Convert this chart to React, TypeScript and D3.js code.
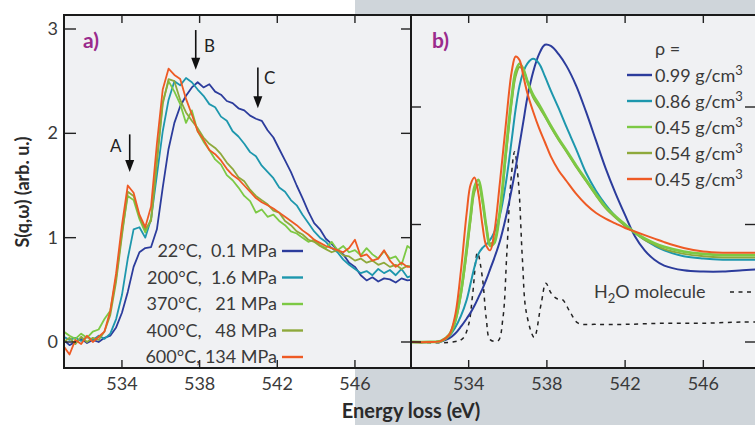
import React from "react";
import * as d3 from "d3";

// ---------- DATA ----------
const leftEnergy: number[] = [
  531.0, 531.3, 531.6, 531.9, 532.2, 532.5, 532.8, 533.1, 533.4, 533.7,
  534.0, 534.3, 534.6, 534.9, 535.2, 535.5, 535.8, 536.1, 536.4, 536.7,
  537.0, 537.3, 537.6, 537.9, 538.2, 538.5, 538.8, 539.1, 539.4, 539.7,
  540.0, 540.3, 540.6, 540.9, 541.2, 541.5, 541.8, 542.1, 542.4, 542.7,
  543.0, 543.3, 543.6, 543.9, 544.2, 544.5, 544.8, 545.1, 545.4, 545.7,
  546.0, 546.3, 546.6, 546.9, 547.2, 547.5, 547.8, 548.1, 548.4, 548.7, 549.0,
];
const exp22C: number[] = [
  0.02, -0.03, 0.0, 0.03, -0.01, 0.02, 0.0, 0.04, 0.06, 0.14,
  0.28, 0.48, 0.72, 0.86, 0.9, 0.91, 1.08, 1.48, 1.85, 2.1,
  2.26, 2.36, 2.44, 2.49, 2.44, 2.47, 2.4, 2.37, 2.31, 2.29,
  2.24, 2.22, 2.17, 2.14, 2.12, 2.03, 1.96, 1.85, 1.74, 1.63,
  1.5, 1.38, 1.25, 1.14, 1.08, 0.99, 0.94, 0.88, 0.84, 0.76,
  0.72, 0.64, 0.59, 0.62, 0.58, 0.61, 0.6, 0.57, 0.61, 0.59, 0.6,
];
const exp200C: number[] = [
  0.05, 0.02, 0.04, 0.01, 0.05, 0.02, 0.06, 0.03, 0.08, 0.22,
  0.45, 0.8, 1.08, 1.1, 1.0, 1.18, 1.6, 2.02, 2.32, 2.5,
  2.46, 2.53, 2.49, 2.42, 2.36, 2.28, 2.25, 2.16, 2.12, 2.02,
  1.97, 1.9, 1.82, 1.78, 1.69, 1.63, 1.57, 1.48, 1.44, 1.36,
  1.31, 1.22, 1.14, 1.06, 1.0, 0.96, 0.9, 0.86, 0.79, 0.74,
  0.7, 0.66, 0.68, 0.64, 0.7, 0.66, 0.69, 0.64, 0.7, 0.62, 0.64,
];
const exp370C: number[] = [
  0.1, 0.06, 0.03, 0.08, 0.04, 0.1, 0.12, 0.22, 0.3, 0.62,
  1.05, 1.4, 1.36, 1.18, 1.05, 1.18, 1.75, 2.3, 2.5, 2.4,
  2.28, 2.1, 2.22, 2.02, 1.92, 1.84, 1.75, 1.7, 1.6, 1.55,
  1.48, 1.4, 1.35, 1.24, 1.27, 1.2, 1.22, 1.16, 1.12, 1.06,
  1.04, 1.0, 0.96, 0.98, 0.93, 0.9, 0.96, 0.88, 0.92, 0.86,
  0.88, 0.83, 0.9, 0.84, 0.8, 0.87, 0.8, 0.82, 0.74, 0.92, 0.88,
];
const exp400C: number[] = [
  0.0, 0.04, -0.02, 0.05, 0.0, 0.04, 0.02, 0.1, 0.26, 0.58,
  1.02, 1.44, 1.4, 1.2, 1.08, 1.16, 1.72, 2.28, 2.52, 2.5,
  2.32, 2.2, 2.12, 2.05, 1.96, 1.9, 1.86, 1.8, 1.72, 1.66,
  1.58, 1.54, 1.46, 1.4, 1.36, 1.32, 1.26, 1.24, 1.16, 1.12,
  1.06, 1.03, 0.98, 0.96, 0.92, 0.89, 0.86, 0.88, 0.83, 0.82,
  0.78, 0.8, 0.76, 0.78, 0.74, 0.76, 0.72, 0.74, 0.7, 0.73, 0.72,
];
const exp600C: number[] = [
  -0.04, -0.12, 0.02, -0.02, 0.06, 0.0, 0.05, 0.1, 0.3, 0.66,
  1.12, 1.5, 1.43, 1.22, 1.1, 1.3, 1.9, 2.42, 2.62, 2.56,
  2.52, 2.33, 2.18, 2.02, 1.94, 1.84, 1.8, 1.74, 1.66, 1.6,
  1.56, 1.5, 1.44, 1.38, 1.34, 1.31, 1.28, 1.24, 1.2, 1.16,
  1.12, 1.07, 1.03, 0.98, 0.95, 0.92, 0.9, 0.88, 0.86, 0.9,
  0.98, 0.82, 0.84, 0.78, 0.8, 0.88, 0.78, 0.72, 0.76, 0.72, 0.72,
];
const leftLabels: string[] = [
  "22°C,  0.1 MPa",
  "200°C,  1.6 MPa",
  "370°C,   21 MPa",
  "400°C,   48 MPa",
  "600°C, 134 MPa",
];

const rightEnergy: number[] = [
  531, 532, 532.6, 533, 533.3, 533.6, 533.9, 534.1, 534.3, 534.5,
  534.7, 534.9, 535.1, 535.3, 535.6, 535.9, 536.2, 536.4, 536.6, 536.8,
  537.0, 537.3, 537.6, 537.9, 538.2, 538.6, 539.0, 539.5, 540.0, 540.5,
  541.0, 541.5, 542.0, 542.5, 543.0, 543.5, 544.0, 545.0, 546.0, 547.0, 548.0, 549.0,
];
const sim099: number[] = [
  0, 0, 0.005, 0.03, 0.07, 0.13, 0.2, 0.25, 0.31, 0.38,
  0.45, 0.53, 0.62, 0.71, 0.86, 1.06, 1.3, 1.48, 1.68, 1.88,
  2.08, 2.3, 2.45, 2.53, 2.52, 2.45, 2.35, 2.18, 1.96, 1.72,
  1.48, 1.27, 1.08, 0.9, 0.78, 0.7, 0.65, 0.61, 0.6, 0.6, 0.61, 0.62,
];
const sim086: number[] = [
  0, 0, 0.01, 0.05, 0.12, 0.22, 0.36, 0.5, 0.64, 0.75,
  0.8, 0.83, 0.87, 0.93, 1.08, 1.35, 1.72, 1.98, 2.18, 2.3,
  2.37, 2.41, 2.37, 2.26, 2.14, 1.99, 1.83, 1.64, 1.44, 1.29,
  1.17, 1.07, 0.99, 0.93, 0.87, 0.82, 0.78, 0.73, 0.71, 0.7, 0.7, 0.7,
];
const sim045a: number[] = [
  0, 0, 0.01, 0.06, 0.18, 0.42, 0.8, 1.08, 1.32, 1.38,
  1.22, 0.98, 0.82, 0.84, 1.12, 1.62, 2.08, 2.3, 2.37, 2.32,
  2.22, 2.1, 2.02, 1.93, 1.84, 1.73, 1.63, 1.5, 1.38, 1.26,
  1.15, 1.07, 1.0, 0.93, 0.88, 0.84, 0.81, 0.77, 0.75, 0.74, 0.74, 0.74,
];
const sim054: number[] = [
  0, 0, 0.01, 0.05, 0.16, 0.4, 0.76, 1.04, 1.28, 1.34,
  1.2, 0.98, 0.84, 0.86, 1.1, 1.58, 2.04, 2.26, 2.34, 2.31,
  2.22, 2.08, 2.0, 1.92, 1.83, 1.72, 1.62, 1.49, 1.37, 1.25,
  1.14, 1.06, 0.99, 0.93, 0.87, 0.83, 0.79, 0.75, 0.73, 0.72, 0.72, 0.72,
];
const sim045b: number[] = [
  0, 0, 0.01, 0.06, 0.22, 0.6, 1.1, 1.34, 1.4, 1.26,
  1.0, 0.82, 0.78, 0.92, 1.36, 1.85, 2.3, 2.43, 2.4, 2.26,
  2.12, 1.96, 1.82, 1.7, 1.58, 1.46, 1.37, 1.26, 1.17, 1.1,
  1.05, 1.01, 0.97, 0.94, 0.91, 0.88, 0.85, 0.8, 0.77, 0.76, 0.76, 0.76,
];
const rightLabels: string[] = ["0.99", "0.86", "0.45", "0.54", "0.45"];

const h2oEnergy: number[] = [
  531, 533.2, 533.7, 534.0, 534.2, 534.45, 534.7, 534.9, 535.1, 535.5,
  535.75, 535.95, 536.15, 536.35, 536.55, 536.75, 536.95, 537.35, 537.7, 537.95,
  538.2, 538.5, 538.8, 539.2, 539.6, 540.5, 542, 544, 546, 548, 549,
];
const h2oValues: number[] = [
  0, 0, 0.03, 0.15, 0.4, 0.76, 0.55, 0.2, 0.02, 0.01,
  0.2, 0.75, 1.35, 1.62, 1.35, 0.7, 0.25, 0.04, 0.32, 0.5,
  0.42, 0.37, 0.36, 0.25, 0.16, 0.15, 0.15, 0.16, 0.16, 0.17, 0.17,
];

const xTicks: number[] = [534, 538, 542, 546];
const leftYTicks: number[] = [0, 1, 2, 3];
const rightYTicks: number[] = [0, 1, 2];

const colors = ["#2c3c9c", "#1d97ad", "#7cc944", "#8ea93b", "#ee5a24"];

// ---------- LAYOUT ----------
const W = 755;
const H = 425;
const top = 15;
const bottom = 368;
const lx0 = 64;
const mid = 411;
const rx1 = 758;

const xL = d3.scaleLinear().domain([531, 549]).range([63.7, 413.2]);
const xR = d3.scaleLinear().domain([531, 549]).range([410, 762]);
const yL = d3.scaleLinear().domain([0, 3]).range([342, 29]);
const yR = d3.scaleLinear().domain([0, 2]).range([342, 107]);

const FONT = "Lato, 'Open Sans', 'DejaVu Sans', sans-serif";
const TXT = "#3a3a3a";

export default function App() {
  const leftSeries = [exp22C, exp200C, exp370C, exp400C, exp600C];
  const rightSeries = [sim099, sim086, sim045a, sim054, sim045b];

  const lineL = d3
    .line<number>()
    .x((_, i) => xL(leftEnergy[i]))
    .y((d) => yL(d));
  const lineR = d3
    .line<number>()
    .x((_, i) => xR(rightEnergy[i]))
    .y((d) => yR(d))
    .curve(d3.curveCatmullRom.alpha(0.5));
  const lineH2O = d3
    .line<number>()
    .x((_, i) => xR(h2oEnergy[i]))
    .y((d) => yR(d))
    .curve(d3.curveCatmullRom.alpha(0.5));

  const tl = 8;
  const leftOrder = [0, 1, 2, 3, 4];
  const rightOrder = [0, 1, 3, 2, 4];

  const arrow = (E: number, v0: number, v1: number, key: string) => {
    const x = xL(E);
    const y0 = yL(v0);
    const y1 = yL(v1);
    return (
      <g key={key}>
        <line x1={x} x2={x} y1={y0} y2={y1 - 10} stroke="#111" strokeWidth={1.6} />
        <path d={`M${x - 4.5},${y1 - 12} L${x + 4.5},${y1 - 12} L${x},${y1} Z`} fill="#111" />
      </g>
    );
  };

  return (
    <svg
      width={W}
      height={H}
      style={{ position: "absolute", left: 0, top: 0, background: "#fff" }}
      fontFamily={FONT}
    >
      <defs>
        <clipPath id="clipL">
          <rect x={lx0} y={top} width={mid - lx0} height={bottom - top} />
        </clipPath>
        <clipPath id="clipR">
          <rect x={mid} y={top} width={rx1 - mid} height={bottom - top} />
        </clipPath>
      </defs>
      {/* backgrounds */}
      <rect x={355} y={0} width={W - 355} height={H} fill="#cfd5da" />
      <rect x={lx0} y={top} width={rx1 - lx0} height={bottom - top} fill="#f0f1f3" />

      {/* left curves */}
      <g clipPath="url(#clipL)">
        {leftOrder.map((k) => (
          <path
            key={"l" + k}
            d={lineL(leftSeries[k]) || ""}
            fill="none"
            stroke={colors[k]}
            strokeWidth={1.8}
            strokeLinejoin="round"
          />
        ))}
      </g>

      {/* right curves */}
      <g clipPath="url(#clipR)">
        <path
          d={lineH2O(h2oValues) || ""}
          fill="none"
          stroke="#222"
          strokeWidth={1.5}
          strokeDasharray="4,4.5"
        />
        {rightOrder.map((k) => (
          <path
            key={"r" + k}
            d={lineR(rightSeries[k]) || ""}
            fill="none"
            stroke={colors[k]}
            strokeWidth={k === 2 ? 2.8 : 2}
          />
        ))}
      </g>

      {/* ticks */}
      <g stroke="#222" strokeWidth={1.4}>
        {xTicks.map((t) => (
          <g key={"xt" + t}>
            <line x1={xL(t)} x2={xL(t)} y1={top} y2={top + tl} />
            <line x1={xL(t)} x2={xL(t)} y1={bottom} y2={bottom - tl} />
            <line x1={xR(t)} x2={xR(t)} y1={top} y2={top + tl} />
            <line x1={xR(t)} x2={xR(t)} y1={bottom} y2={bottom - tl} />
          </g>
        ))}
        {leftYTicks.map((t) => (
          <g key={"ly" + t}>
            <line x1={lx0} x2={lx0 + tl + 4} y1={yL(t)} y2={yL(t)} />
            <line x1={mid} x2={mid - tl - 2} y1={yL(t)} y2={yL(t)} />
          </g>
        ))}
        {rightYTicks.map((t) => (
          <g key={"ry" + t}>
            <line x1={mid} x2={mid + tl + 2} y1={yR(t)} y2={yR(t)} />
            <line x1={W} x2={W - tl - 2} y1={yR(t)} y2={yR(t)} />
          </g>
        ))}
      </g>

      {/* frames */}
      <rect x={lx0} y={top} width={rx1 - lx0} height={bottom - top} fill="none" stroke="#1a1a1a" strokeWidth={2} />
      <line x1={mid} x2={mid} y1={top} y2={bottom} stroke="#1a1a1a" strokeWidth={2} />

      {/* tick labels */}
      <g fontSize={18} fill={TXT} textAnchor="middle">
        {xTicks.map((t) => (
          <g key={"xl" + t}>
            <text x={xL(t)} y={390}>{t}</text>
            <text x={xR(t)} y={390}>{t}</text>
          </g>
        ))}
      </g>
      <g fontSize={18} fill={TXT} textAnchor="end">
        {leftYTicks.map((t) => (
          <text key={"yl" + t} x={58} y={yL(t) + 6}>{t}</text>
        ))}
      </g>

      {/* axis titles */}
      <text x={411} y={418} fontSize={20} fontWeight="bold" fill="#2a2a2a" textAnchor="middle">
        Energy loss (eV)
      </text>
      <text
        transform={`translate(29,192) rotate(-90)`}
        fontSize={18}
        fontWeight="bold"
        fill="#2a2a2a"
        textAnchor="middle"
      >
        S(q,ω) (arb. u.)
      </text>

      {/* panel labels */}
      <text x={83} y={48} fontSize={21} fontWeight="bold" fill="#9a2b8c">a)</text>
      <text x={432} y={48} fontSize={21} fontWeight="bold" fill="#9a2b8c">b)</text>

      {/* arrows */}
      {arrow(534.4, 1.99, 1.63, "A")}
      {arrow(537.8, 2.99, 2.61, "B")}
      {arrow(541.0, 2.63, 2.24, "C")}
      <g fontSize={17} fill="#222">
        <text x={110} y={152}>A</text>
        <text x={204} y={52}>B</text>
        <text x={264} y={84}>C</text>
      </g>

      {/* left legend */}
      <g fontSize={18} fill={TXT}>
        {leftLabels.map((l, i) => {
          const y = 251 + i * 26.5;
          return (
            <g key={"lg" + i}>
              <text x={277} y={y + 6} textAnchor="end" style={{ whiteSpace: "pre" }}>
                {l}
              </text>
              <line x1={282} x2={303} y1={y} y2={y} stroke={colors[i]} strokeWidth={2.4} />
            </g>
          );
        })}
      </g>

      {/* right legend */}
      <g fontSize={18} fill={TXT}>
        <text x={655} y={55}>ρ =</text>
        {rightLabels.map((l, i) => {
          const y = 75 + i * 26;
          return (
            <g key={"rg" + i}>
              <line x1={627} x2={652} y1={y} y2={y} stroke={colors[i]} strokeWidth={2.4} />
              <text x={655} y={y + 7}>
                {l} g/cm<tspan fontSize={13} dy={-7}>3</tspan>
              </text>
            </g>
          );
        })}
        <text x={594} y={298}>
          H<tspan fontSize={13} dy={5}>2</tspan>
          <tspan dy={-5}>O molecule</tspan>
        </text>
        <line x1={730} x2={755} y1={292} y2={292} stroke="#222" strokeWidth={1.5} strokeDasharray="4,4.5" />
      </g>
    </svg>
  );
}
